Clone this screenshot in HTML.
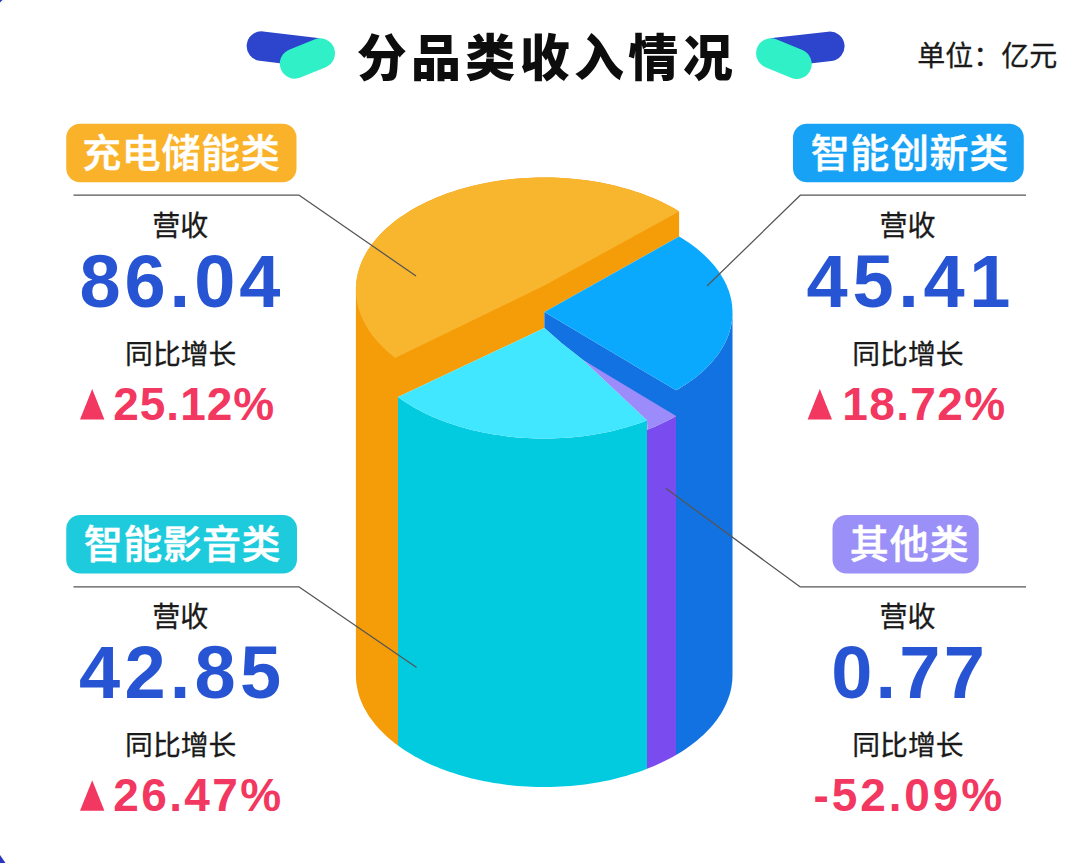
<!DOCTYPE html>
<html lang="zh"><head><meta charset="utf-8"><title>分品类收入情况</title>
<style>
html,body{margin:0;padding:0;background:#ffffff;font-family:"Liberation Sans",sans-serif;}
body{width:1080px;height:863px;overflow:hidden;}
svg{display:block;}
</style></head><body>
<svg width="1080" height="863" viewBox="0 0 1080 863" role="img" aria-label="分品类收入情况">
<title>分品类收入情况</title>
<desc>分品类收入情况 单位：亿元。充电储能类 营收 86.04 同比增长 ▲25.12%；智能创新类 营收 45.41 同比增长 ▲18.72%；智能影音类 营收 42.85 同比增长 ▲26.47%；其他类 营收 0.77 同比增长 -52.09%</desc>
<rect width="1080" height="863" fill="#ffffff"/>
<g fill="none" stroke-linecap="round">
<line x1="261.4" y1="46.1" x2="314" y2="52.5" stroke="#2c45cc" stroke-width="29.5"/>
<line x1="294.8" y1="63.6" x2="320" y2="53.3" stroke="#2ff0c6" stroke-width="30"/>
<line x1="829.8" y1="46.3" x2="776" y2="52.5" stroke="#2c45cc" stroke-width="29.5"/>
<line x1="771.1" y1="53.3" x2="796.7" y2="63.9" stroke="#2ff0c6" stroke-width="30"/>
</g>
<text x="356.7" y="75.6" font-family='"Liberation Sans", "Noto Sans CJK SC", sans-serif' font-size="50" font-weight="900" fill="#0d0d0d" textLength="376" lengthAdjust="spacing">分品类收入情况</text>
<text x="917.3" y="66.4" font-family='"Liberation Sans", "Noto Sans CJK SC", sans-serif' font-size="28" fill="#1a1a1a" stroke="#1a1a1a" stroke-width="0.3">单位：亿元</text>
<g><path fill="#f59c09" d="M355.9 289.5 L356.0 286.6 L356.2 283.7 L356.5 280.8 L356.9 277.9 L357.5 275.0 L358.2 272.1 L359.0 269.2 L360.0 266.3 L361.0 263.5 L362.2 260.7 L363.6 257.9 L365.0 255.1 L366.6 252.3 L368.3 249.6 L370.1 246.9 L372.0 244.2 L374.1 241.5 L376.2 238.9 L378.5 236.3 L380.9 233.8 L383.4 231.3 L386.0 228.8 L388.7 226.4 L391.5 224.0 L394.4 221.6 L397.4 219.3 L400.6 217.1 L403.8 214.9 L407.1 212.7 L410.5 210.6 L414.0 208.6 L417.6 206.6 L421.3 204.7 L425.0 202.8 L428.8 201.0 L432.8 199.2 L436.7 197.5 L440.8 195.9 L444.9 194.3 L449.1 192.8 L453.4 191.4 L457.7 190.0 L462.1 188.7 L466.6 187.5 L471.0 186.3 L475.6 185.2 L480.2 184.2 L484.8 183.2 L489.5 182.3 L494.2 181.5 L498.9 180.8 L503.7 180.1 L508.5 179.5 L513.3 179.0 L518.2 178.6 L523.1 178.2 L527.9 177.9 L532.8 177.7 L537.7 177.6 L542.6 177.5 L547.5 177.5 L552.4 177.6 L557.3 177.8 L562.2 178.0 L567.1 178.3 L571.9 178.7 L576.8 179.2 L581.6 179.7 L586.4 180.3 L591.2 181.0 L595.9 181.8 L600.6 182.6 L605.2 183.5 L609.9 184.5 L614.4 185.6 L619.0 186.7 L623.4 187.9 L627.9 189.2 L632.2 190.5 L636.5 191.9 L640.8 193.3 L644.9 194.9 L649.0 196.5 L653.1 198.1 L657.0 199.8 L660.9 201.6 L664.7 203.5 L668.5 205.4 L672.1 207.3 L675.7 209.3 L679.1 211.4 L679.1 236.5 L544.4 312.0 L544.4 328.0 L398.0 397.1 L398.0 745.6 L395.1 743.4 L392.2 741.1 L389.4 738.8 L386.8 736.5 L384.2 734.1 L381.8 731.6 L379.4 729.2 L377.2 726.7 L375.0 724.2 L373.0 721.6 L371.1 719.0 L369.2 716.4 L367.5 713.8 L366.0 711.1 L364.5 708.4 L363.1 705.7 L361.9 703.0 L360.7 700.2 L359.7 697.5 L358.8 694.7 L358.1 691.9 L357.4 689.1 L356.9 686.3 L356.4 683.5 L356.1 680.7 L356.0 677.8 L355.9 675.0 Z"/><path fill="#1372e2" d="M676.0 390.3 L676.0 390.3 L679.4 388.4 L682.7 386.3 L686.0 384.2 L689.1 382.1 L692.1 379.9 L695.1 377.7 L697.9 375.5 L700.6 373.2 L703.3 370.8 L705.8 368.4 L708.2 366.0 L710.6 363.6 L712.8 361.1 L714.9 358.6 L716.9 356.0 L718.7 353.4 L720.5 350.8 L722.1 348.2 L723.6 345.5 L725.0 342.9 L726.3 340.2 L727.5 337.4 L728.5 334.7 L729.5 332.0 L730.3 329.2 L731.0 326.4 L731.5 323.7 L731.9 320.9 L732.3 318.1 L732.4 315.3 L732.5 312.5 L732.5 675.0 L732.4 677.9 L732.3 680.7 L731.9 683.6 L731.5 686.5 L731.0 689.3 L730.3 692.2 L729.5 695.0 L728.5 697.8 L727.5 700.6 L726.3 703.4 L725.0 706.2 L723.6 708.9 L722.1 711.7 L720.5 714.4 L718.7 717.1 L716.9 719.7 L714.9 722.3 L712.8 724.9 L710.6 727.5 L708.2 730.0 L705.8 732.5 L703.3 734.9 L700.6 737.3 L697.9 739.7 L695.1 742.0 L692.1 744.3 L689.1 746.5 L686.0 748.7 L682.7 750.9 L679.4 753.0 L676.0 755.0 Z"/><path fill="#1372e2" d="M544.4 312.0 L676.0 390.3 L676.0 416.5 L620 384 L583 360 L562 343.5 L544.4 328.0 Z"/><path fill="#f8b52e" d="M395.1 357.9 L392.2 355.6 L389.3 353.2 L386.6 350.8 L383.9 348.3 L381.4 345.8 L379.0 343.3 L376.7 340.7 L374.5 338.1 L372.4 335.4 L370.5 332.7 L368.6 330.0 L366.9 327.3 L365.3 324.5 L363.9 321.7 L362.5 318.9 L361.3 316.1 L360.2 313.2 L359.2 310.4 L358.3 307.5 L357.6 304.6 L357.0 301.7 L356.5 298.8 L356.2 295.9 L356.0 293.0 L355.9 290.0 L355.9 287.1 L356.1 284.2 L356.4 281.3 L356.8 278.4 L357.4 275.5 L358.1 272.6 L358.9 269.7 L359.8 266.8 L360.9 264.0 L362.0 261.1 L363.3 258.3 L364.8 255.5 L366.3 252.7 L368.0 250.0 L369.8 247.3 L371.7 244.6 L373.7 241.9 L375.9 239.3 L378.1 236.7 L380.5 234.1 L383.0 231.6 L385.6 229.1 L388.3 226.7 L391.1 224.3 L394.0 221.9 L397.0 219.6 L400.1 217.4 L403.4 215.2 L406.7 213.0 L410.1 210.9 L413.6 208.8 L417.1 206.8 L420.8 204.9 L424.6 203.0 L428.4 201.2 L432.3 199.4 L436.3 197.7 L440.4 196.1 L444.5 194.5 L448.7 193.0 L453.0 191.5 L457.3 190.1 L461.7 188.8 L466.1 187.6 L470.6 186.4 L475.2 185.3 L479.8 184.3 L484.4 183.3 L489.1 182.4 L493.8 181.6 L498.6 180.8 L503.3 180.2 L508.1 179.6 L513.0 179.1 L517.8 178.6 L522.7 178.2 L527.6 177.9 L532.5 177.7 L537.4 177.6 L542.3 177.5 L547.2 177.5 L552.1 177.6 L557.0 177.8 L561.9 178.0 L566.8 178.3 L571.7 178.7 L576.5 179.2 L581.4 179.7 L586.2 180.3 L591.0 181.0 L595.7 181.8 L600.4 182.6 L605.1 183.5 L609.7 184.5 L614.3 185.5 L618.8 186.7 L623.3 187.9 L627.7 189.1 L632.1 190.5 L636.4 191.9 L640.7 193.3 L644.9 194.8 L649.0 196.4 L653.0 198.1 L657.0 199.8 L660.9 201.6 L664.7 203.4 L668.4 205.3 L672.1 207.3 L675.7 209.3 L679.1 211.4 L544.5 285.5 Z"/><path fill="#0aa9fd" d="M544.4 312.0 L679.1 236.5 L682.5 238.5 L685.8 240.7 L689.0 242.8 L692.1 245.0 L695.1 247.3 L698.0 249.6 L700.8 251.9 L703.4 254.3 L706.0 256.8 L708.5 259.2 L710.8 261.7 L713.1 264.3 L715.2 266.8 L717.2 269.4 L719.1 272.1 L720.8 274.7 L722.5 277.4 L724.0 280.1 L725.4 282.8 L726.7 285.6 L727.8 288.4 L728.9 291.1 L729.8 293.9 L730.5 296.8 L731.2 299.6 L731.7 302.4 L732.1 305.2 L732.3 308.1 L732.5 310.9 L732.5 313.8 L732.4 316.6 L732.1 319.5 L731.7 322.3 L731.2 325.1 L730.6 328.0 L729.8 330.8 L728.9 333.6 L727.9 336.4 L726.8 339.1 L725.5 341.9 L724.1 344.6 L722.6 347.3 L721.0 350.0 L719.2 352.7 L717.4 355.3 L715.4 357.9 L713.3 360.5 L711.0 363.0 L708.7 365.5 L706.3 368.0 L703.7 370.4 L701.0 372.8 L698.3 375.2 L695.4 377.5 L692.4 379.7 L689.3 382.0 L686.1 384.1 L682.8 386.3 L679.5 388.3 L676.0 390.3 Z"/><path fill="#02cbe0" d="M647.0 420.3 L642.9 421.9 L638.7 423.4 L634.5 424.8 L630.2 426.1 L625.9 427.4 L621.5 428.6 L617.1 429.8 L612.6 430.9 L608.1 431.9 L603.5 432.8 L598.9 433.7 L594.2 434.5 L589.5 435.2 L584.8 435.9 L580.1 436.5 L575.3 437.0 L570.5 437.4 L565.7 437.8 L560.9 438.1 L556.0 438.3 L551.2 438.4 L546.4 438.5 L541.5 438.5 L536.7 438.4 L531.8 438.3 L527.0 438.0 L522.2 437.7 L517.4 437.4 L512.6 436.9 L507.8 436.4 L503.1 435.8 L498.4 435.1 L493.7 434.4 L489.1 433.6 L484.4 432.7 L479.9 431.8 L475.3 430.7 L470.8 429.7 L466.4 428.5 L462.0 427.3 L457.7 426.0 L453.4 424.6 L449.2 423.2 L445.1 421.7 L441.0 420.2 L437.0 418.6 L433.0 416.9 L429.1 415.2 L425.3 413.4 L421.6 411.5 L418.0 409.6 L414.4 407.7 L411.0 405.6 L407.6 403.6 L404.3 401.5 L401.1 399.3 L398.0 397.1 L398.0 745.6 L401.1 747.8 L404.3 750.0 L407.6 752.1 L411.0 754.1 L414.4 756.2 L418.0 758.1 L421.6 760.0 L425.3 761.9 L429.1 763.7 L433.0 765.4 L437.0 767.1 L441.0 768.7 L445.1 770.2 L449.2 771.7 L453.4 773.1 L457.7 774.5 L462.0 775.8 L466.4 777.0 L470.8 778.2 L475.3 779.2 L479.9 780.3 L484.4 781.2 L489.1 782.1 L493.7 782.9 L498.4 783.6 L503.1 784.3 L507.8 784.9 L512.6 785.4 L517.4 785.9 L522.2 786.2 L527.0 786.5 L531.8 786.8 L536.7 786.9 L541.5 787.0 L546.4 787.0 L551.2 786.9 L556.0 786.8 L560.9 786.6 L565.7 786.3 L570.5 785.9 L575.3 785.5 L580.1 785.0 L584.8 784.4 L589.5 783.7 L594.2 783.0 L598.9 782.2 L603.5 781.3 L608.1 780.4 L612.6 779.4 L617.1 778.3 L621.5 777.1 L625.9 775.9 L630.2 774.6 L634.5 773.3 L638.7 771.9 L642.9 770.4 L647.0 768.8 Z"/><path fill="#7a4cf0" d="M676.0 416.0 L672.6 417.9 L669.2 419.8 L665.7 421.6 L662.1 423.3 L658.4 425.0 L654.7 426.7 L650.9 428.3 L647.0 429.8 L647.0 768.8 L650.9 767.3 L654.7 765.7 L658.4 764.0 L662.1 762.3 L665.7 760.6 L669.2 758.8 L672.6 756.9 L676.0 755.0 Z"/><path fill="#41e7ff" d="M544.4 328.0 L562 343.5 L583 360 L647.0 420.3 L642.9 421.9 L638.7 423.4 L634.5 424.8 L630.2 426.1 L625.9 427.4 L621.5 428.6 L617.1 429.8 L612.6 430.9 L608.1 431.9 L603.5 432.8 L598.9 433.7 L594.2 434.5 L589.5 435.2 L584.8 435.9 L580.1 436.5 L575.3 437.0 L570.5 437.4 L565.7 437.8 L560.9 438.1 L556.0 438.3 L551.2 438.4 L546.4 438.5 L541.5 438.5 L536.7 438.4 L531.8 438.3 L527.0 438.0 L522.2 437.7 L517.4 437.4 L512.6 436.9 L507.8 436.4 L503.1 435.8 L498.4 435.1 L493.7 434.4 L489.1 433.6 L484.4 432.7 L479.9 431.8 L475.3 430.7 L470.8 429.7 L466.4 428.5 L462.0 427.3 L457.7 426.0 L453.4 424.6 L449.2 423.2 L445.1 421.7 L441.0 420.2 L437.0 418.6 L433.0 416.9 L429.1 415.2 L425.3 413.4 L421.6 411.5 L418.0 409.6 L414.4 407.7 L411.0 405.6 L407.6 403.6 L404.3 401.5 L401.1 399.3 L398.0 397.1 Z"/><path fill="#9c8bfa" d="M583 360 L676.0 416.0 L672.7 417.9 L669.3 419.7 L665.8 421.5 L662.3 423.3 L658.6 424.9 L655.0 426.6 L651.2 428.2 L647.4 429.7 L647.0 420.3 Z"/></g>
<g fill="none" stroke="#555555" stroke-width="1.25" stroke-linejoin="round">
<polyline points="73.5,195 298.8,195 416,276"/>
<polyline points="1026,195 800.5,195 707,286"/>
<polyline points="73.5,586.8 298.8,586.8 416.6,667.6"/>
<polyline points="1026,586.8 800,586.8 665.8,488.3"/>
</g>
<rect x="66.25" y="123.75" width="230.25" height="58.60" rx="14" fill="#f9b22a"/>
<text x="82.2" y="166.8" font-family='"Liberation Sans", "Noto Sans CJK SC", sans-serif' font-size="39" font-weight="500" fill="#ffffff" stroke="#ffffff" stroke-width="0.47" textLength="197.5" lengthAdjust="spacing">充电储能类</text>
<text x="152.3" y="236.2" font-family='"Liberation Sans", "Noto Sans CJK SC", sans-serif' font-size="28" fill="#1a1a1a" stroke="#1a1a1a" stroke-width="0.3">营收</text>
<text x="79.4" y="307" font-family='"Liberation Sans", sans-serif' font-size="74" font-weight="700" fill="#2754d3" textLength="201" lengthAdjust="spacing">86.04</text>
<text x="125.1" y="363.6" font-family='"Liberation Sans", "Noto Sans CJK SC", sans-serif' font-size="27.8" fill="#1a1a1a" stroke="#1a1a1a" stroke-width="0.3">同比增长</text>
<path fill="#f23760" d="M80.0 419.6 L92.2 389.0 L104.4 419.6 Z"/>
<text x="113.2" y="419.6" font-family='"Liberation Sans", sans-serif' font-size="46" font-weight="700" fill="#f23760" textLength="161" lengthAdjust="spacing">25.12%</text>
<rect x="793.00" y="123.75" width="230.75" height="58.60" rx="14" fill="#18a2f5"/>
<text x="810.7" y="166.8" font-family='"Liberation Sans", "Noto Sans CJK SC", sans-serif' font-size="39" font-weight="500" fill="#ffffff" stroke="#ffffff" stroke-width="0.47" textLength="197.5" lengthAdjust="spacing">智能创新类</text>
<text x="879.5" y="236.2" font-family='"Liberation Sans", "Noto Sans CJK SC", sans-serif' font-size="28" fill="#1a1a1a" stroke="#1a1a1a" stroke-width="0.3">营收</text>
<text x="806.6" y="307" font-family='"Liberation Sans", sans-serif' font-size="74" font-weight="700" fill="#2754d3" textLength="203.8" lengthAdjust="spacing">45.41</text>
<text x="852.3" y="363.6" font-family='"Liberation Sans", "Noto Sans CJK SC", sans-serif' font-size="27.8" fill="#1a1a1a" stroke="#1a1a1a" stroke-width="0.3">同比增长</text>
<path fill="#f23760" d="M807.6 419.6 L819.8 389.0 L832.0 419.6 Z"/>
<text x="842.2" y="419.6" font-family='"Liberation Sans", sans-serif' font-size="46" font-weight="700" fill="#f23760" textLength="163" lengthAdjust="spacing">18.72%</text>
<rect x="66.25" y="514.95" width="230.75" height="58.60" rx="14" fill="#1ecbdc"/>
<text x="83.7" y="558.1" font-family='"Liberation Sans", "Noto Sans CJK SC", sans-serif' font-size="39" font-weight="500" fill="#ffffff" stroke="#ffffff" stroke-width="0.47" textLength="196.8" lengthAdjust="spacing">智能影音类</text>
<text x="152.3" y="627.4" font-family='"Liberation Sans", "Noto Sans CJK SC", sans-serif' font-size="28" fill="#1a1a1a" stroke="#1a1a1a" stroke-width="0.3">营收</text>
<text x="79.1" y="698.2" font-family='"Liberation Sans", sans-serif' font-size="74" font-weight="700" fill="#2754d3" textLength="202" lengthAdjust="spacing">42.85</text>
<text x="125.1" y="754.8" font-family='"Liberation Sans", "Noto Sans CJK SC", sans-serif' font-size="27.8" fill="#1a1a1a" stroke="#1a1a1a" stroke-width="0.3">同比增长</text>
<path fill="#f23760" d="M80.0 810.8 L92.2 780.2 L104.4 810.8 Z"/>
<text x="113.2" y="810.8" font-family='"Liberation Sans", sans-serif' font-size="46" font-weight="700" fill="#f23760" textLength="168" lengthAdjust="spacing">26.47%</text>
<rect x="832.50" y="514.95" width="146.25" height="58.60" rx="14" fill="#9a90f8"/>
<text x="849.7" y="557.8" font-family='"Liberation Sans", "Noto Sans CJK SC", sans-serif' font-size="39" font-weight="500" fill="#ffffff" stroke="#ffffff" stroke-width="0.47" textLength="119" lengthAdjust="spacing">其他类</text>
<text x="879.5" y="627.4" font-family='"Liberation Sans", "Noto Sans CJK SC", sans-serif' font-size="28" fill="#1a1a1a" stroke="#1a1a1a" stroke-width="0.3">营收</text>
<text x="831.2" y="698.2" font-family='"Liberation Sans", sans-serif' font-size="74" font-weight="700" fill="#2754d3" textLength="153.7" lengthAdjust="spacing">0.77</text>
<text x="852.3" y="754.8" font-family='"Liberation Sans", "Noto Sans CJK SC", sans-serif' font-size="27.8" fill="#1a1a1a" stroke="#1a1a1a" stroke-width="0.3">同比增长</text>
<text x="813.6" y="810.8" font-family='"Liberation Sans", sans-serif' font-size="46" font-weight="700" fill="#f23760" textLength="188.6" lengthAdjust="spacing">-52.09%</text>
<path fill="#2a36c0" d="M0 855 L5.5 863 L0 863 Z"/>
<path fill="#2a36c0" d="M0 0 L2.5 0 L0 2.5 Z"/>
</svg>
</body></html>
